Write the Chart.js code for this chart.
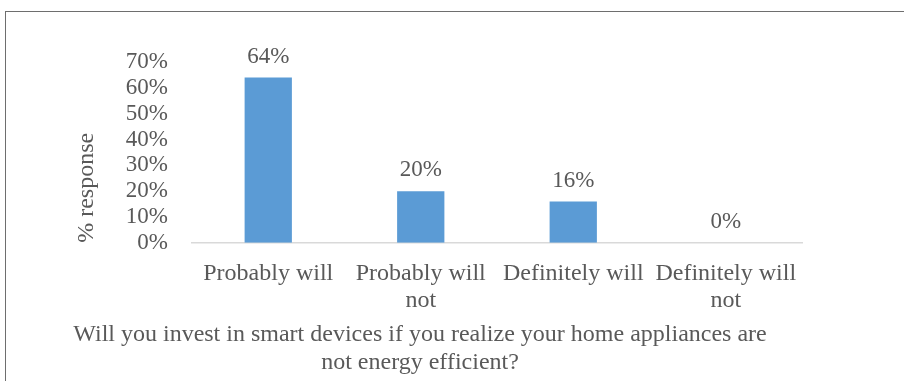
<!DOCTYPE html>
<html>
<head>
<meta charset="utf-8">
<script src="https://cdn.jsdelivr.net/npm/chart.js@4"></script>
<style>
  html, body { margin: 0; padding: 0; background: #fff; overflow: hidden; }
  #frame { position: absolute; left: 5px; top: 11px; width: 1000px; height: 1000px; border: 1px solid #6e6e6e; }
  #wrap { position: absolute; left: 0; top: 0; width: 904px; height: 381px; }
</style>
</head>
<body>
<div id="frame"></div>
<div id="wrap"><canvas id="canvas" width="904" height="381"></canvas></div>
<script>
const categories = [['Probably will'], ['Probably will', 'not'], ['Definitely will'], ['Definitely will', 'not']];
const responses = [64, 20, 16, 0];
const yTicks = [0, 10, 20, 30, 40, 50, 60, 70];

const FONT = "'Liberation Serif', 'Times New Roman', serif";
const GREY = '#595959';

const valueLabels = {
    id: 'valueLabels',
    afterDatasetsDraw(chart) {
        const c = chart.ctx;
        const meta = chart.getDatasetMeta(0);
        c.save();
        c.font = '23px ' + FONT;
        c.fillStyle = GREY;
        c.textAlign = 'center';
        c.textBaseline = 'middle';
        meta.data.forEach((bar, i) => {
            c.fillText(responses[i] + '%', bar.x, bar.y - 21);
        });
        c.restore();
    }
};

const ctx = document.getElementById('canvas').getContext('2d');
new Chart(ctx, {
    type: 'bar',
    data: {
        labels: categories,
        datasets: [{
            data: responses,
            backgroundColor: '#5b9bd5',
            barPercentage: 0.31,
            categoryPercentage: 1
        }]
    },
    options: {
        responsive: false,
        animation: false,
        layout: { padding: { top: 62, left: 38, right: 102, bottom: 4 } },
        plugins: {
            legend: { display: false },
            tooltip: { enabled: false },
            title: {
                display: true,
                position: 'bottom',
                text: ['Will you invest in smart devices if you realize your home appliances are', 'not energy efficient?'],
                color: GREY,
                font: { family: FONT, size: 24, weight: 'normal', lineHeight: 1.17 },
                padding: { top: 0, bottom: 0 }
            }
        },
        scales: {
            x: {
                grid: { display: false, drawTicks: false },
                border: { display: true, color: '#d9d9d9', width: 1.5 },
                ticks: {
                    color: GREY,
                    font: { family: FONT, size: 24, lineHeight: 1.14 },
                    padding: 17,
                    maxRotation: 0,
                    autoSkip: false
                },
                afterFit(scale) { scale.height = 78; }
            },
            y: {
                min: 0,
                max: 70,
                grid: { display: false, drawTicks: false },
                border: { display: false },
                afterBuildTicks(scale) { scale.ticks = yTicks.map(v => ({ value: v })); },
                ticks: {
                    color: GREY,
                    font: { family: FONT, size: 23 },
                    padding: 24,
                    autoSkip: false,
                    callback: v => v + '%'
                },
                title: {
                    display: true,
                    text: '% response',
                    align: 'start',
                    color: GREY,
                    font: { family: FONT, size: 24 },
                    padding: { top: 34, bottom: 0 }
                },
                afterFit(scale) { scale.width = 154; }
            }
        }
    },
    plugins: [valueLabels]
});
</script>
</body>
</html>
